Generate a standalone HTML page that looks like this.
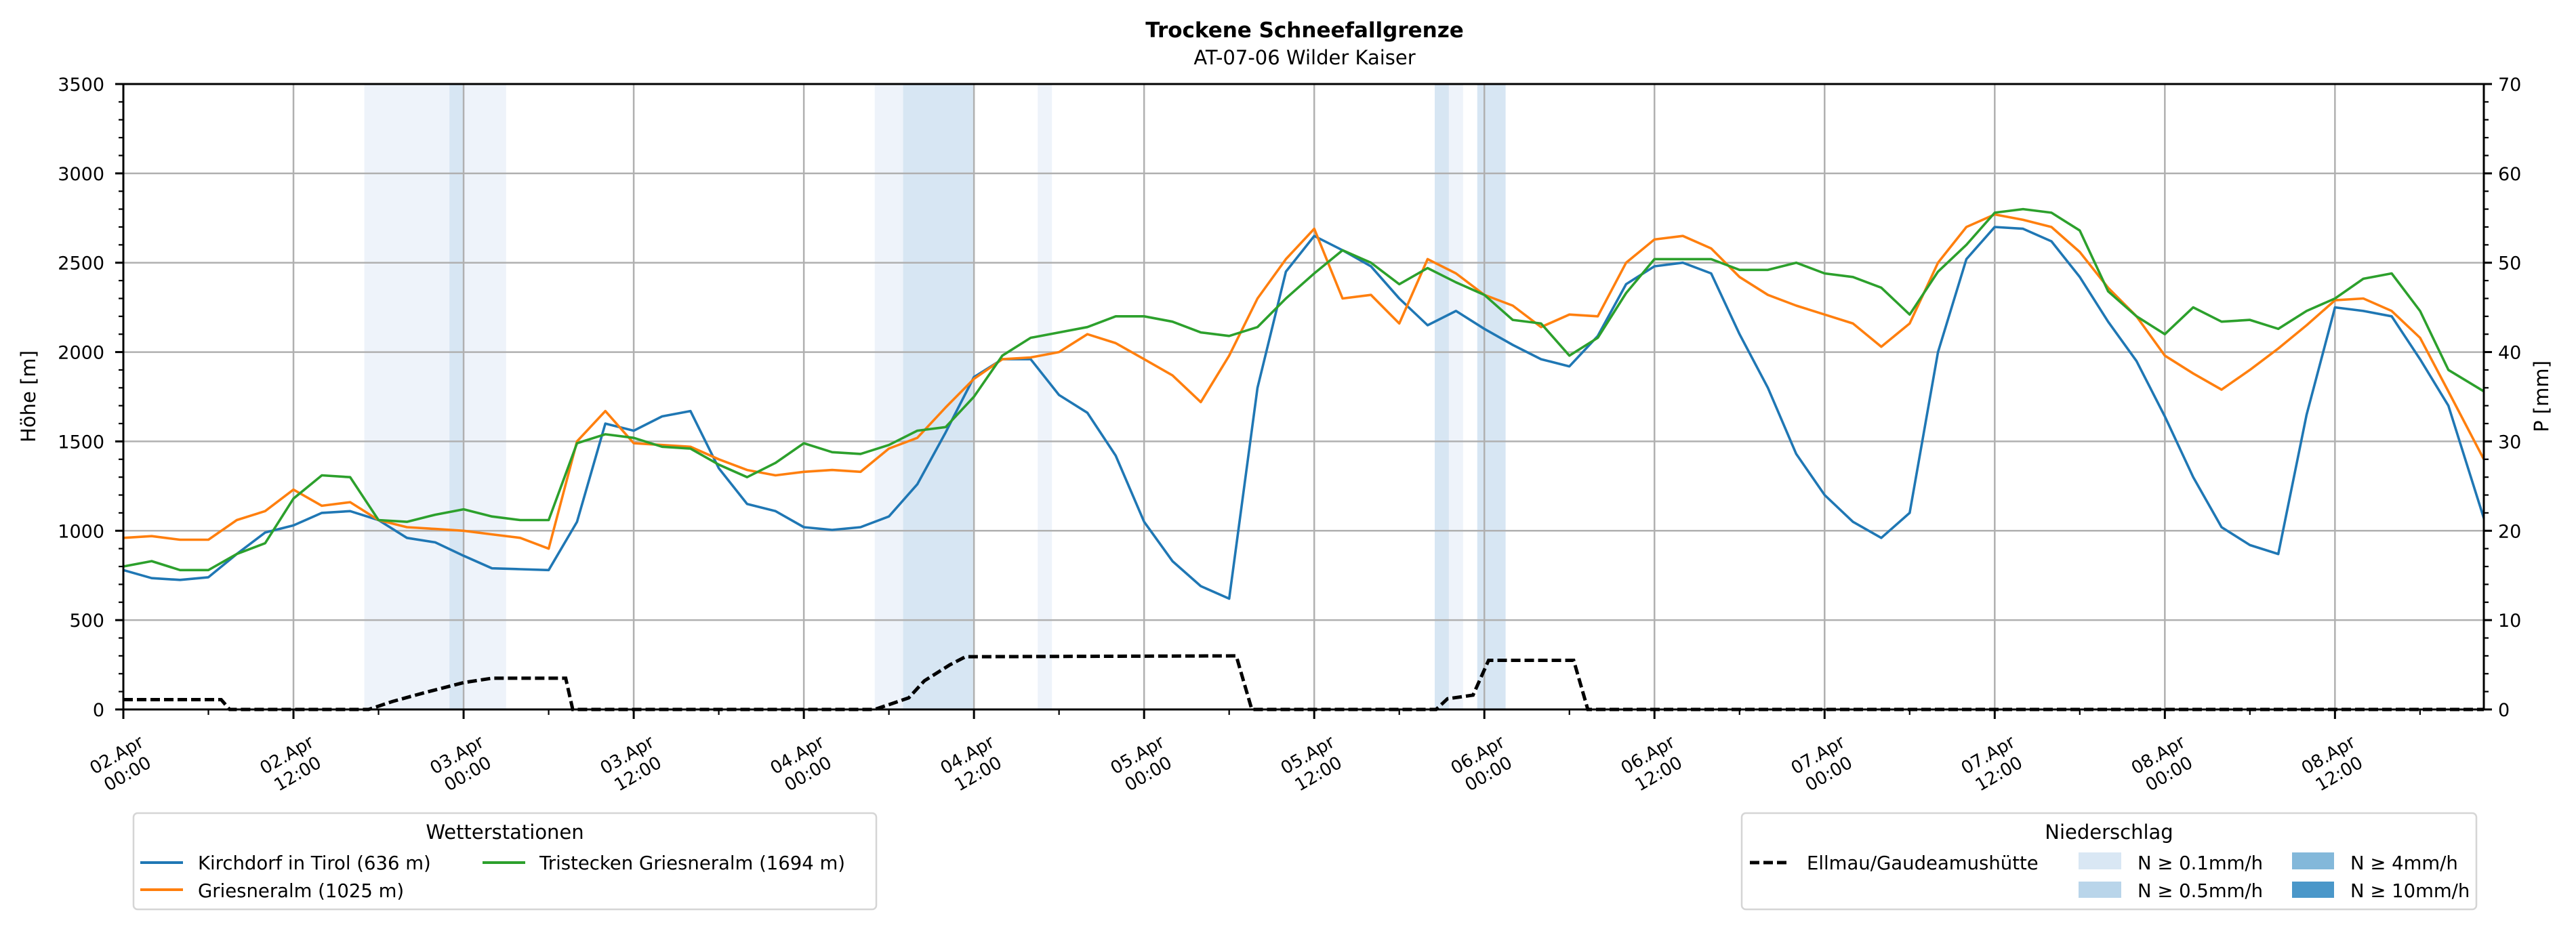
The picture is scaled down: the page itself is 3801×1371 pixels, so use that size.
<!DOCTYPE html>
<html><head><meta charset="utf-8"><style>
html,body{margin:0;padding:0;background:#fff;}
svg{display:block;font-family:"DejaVu Sans","Liberation Sans",sans-serif;}
</style></head><body>
<svg id="chart" width="3801" height="1371" viewBox="0 0 3801 1371" xmlns="http://www.w3.org/2000/svg">
<text x="1925" y="55" text-anchor="middle" font-size="31" font-weight="bold">Trockene Schneefallgrenze</text>
<text x="1925" y="95" text-anchor="middle" font-size="29">AT-07-06 Wilder Kaiser</text>
<g id="bands"></g>
<g id="grid"></g>
<g id="series"></g>
<g id="axes"></g>
<text transform="translate(52,585) rotate(-90)" text-anchor="middle" font-size="29">Höhe [m]</text>
<text transform="translate(3760,585) rotate(-90)" text-anchor="middle" font-size="29">P [mm]</text>

<g>
<rect x="197" y="1200" width="1096" height="142" rx="6" fill="#fff" stroke="#d5d5d5" stroke-width="2.5"/>
<text x="745" y="1238" text-anchor="middle" font-size="29">Wetterstationen</text>
<g><line x1="207" y1="1273" x2="270" y2="1273" stroke="#1f77b4" stroke-width="4"/><text x="292" y="1283" font-size="27.5">Kirchdorf in Tirol (636 m)</text></g>
<g><line x1="712" y1="1273" x2="775" y2="1273" stroke="#2ca02c" stroke-width="4"/><text x="796" y="1283" font-size="27.5">Tristecken Griesneralm  (1694 m)</text></g>
<g><line x1="207" y1="1313" x2="270" y2="1313" stroke="#ff7f0e" stroke-width="4"/><text x="292" y="1324" font-size="27.5">Griesneralm (1025 m)</text></g>
</g>

<g>
<rect x="2570" y="1200" width="1084" height="142" rx="6" fill="#fff" stroke="#d5d5d5" stroke-width="2.5"/>
<text x="3112" y="1238" text-anchor="middle" font-size="29">Niederschlag</text>
<g><line x1="2582" y1="1273" x2="2638" y2="1273" stroke="#000" stroke-width="5" stroke-dasharray="14,6"/><text x="2666" y="1283" font-size="27.5">Ellmau/Gaudeamushütte</text></g>
<g><rect x="3067" y="1258" width="63" height="25" fill="#d9e7f4"/><text x="3154" y="1283" font-size="27.5">N ≥ 0.1mm/h</text></g>
<g><rect x="3067" y="1301" width="63" height="24" fill="#b9d5ea"/><text x="3154" y="1324" font-size="27.5">N ≥ 0.5mm/h</text></g>
<g><rect x="3382" y="1258" width="62" height="25" fill="#83b8da"/><text x="3468" y="1283" font-size="27.5">N ≥ 4mm/h</text></g>
<g><rect x="3382" y="1301" width="62" height="24" fill="#4a97c9"/><text x="3468" y="1324" font-size="27.5">N ≥ 10mm/h</text></g>
</g>
</svg>
<script>
const hours = [0,2,4,6,8,10,12,14,16,18,20,22,24,26,28,30,32,34,36,38,40,42,44,46,48,50,52,54,56,58,60,62,64,66,68,70,72,74,76,78,80,82,84,86,88,90,92,94,96,98,100,102,104,106,108,110,112,114,116,118,120,122,124,126,128,130,132,134,136,138,140,142,144,146,148,150,152,154,156,158,160,162,164,166.5];
const kirchdorf = [780,735,725,740,870,990,1030,1100,1110,1060,960,935,860,790,785,780,1050,1600,1560,1640,1670,1350,1150,1110,1020,1005,1020,1080,1260,1550,1860,1960,1960,1760,1660,1420,1050,830,690,620,1800,2450,2650,2570,2480,2300,2150,2230,2130,2040,1960,1920,2090,2380,2480,2500,2440,2100,1800,1430,1200,1050,960,1100,2000,2520,2700,2690,2620,2420,2170,1950,1640,1300,1020,920,870,1650,2250,2230,2200,1960,1700,1070];
const griesneralm = [960,970,950,950,1060,1110,1230,1140,1160,1060,1020,1010,1000,980,960,900,1500,1670,1490,1480,1470,1400,1340,1310,1330,1340,1330,1460,1520,1690,1850,1960,1970,2000,2100,2050,1960,1870,1720,1980,2300,2520,2690,2300,2320,2160,2520,2440,2320,2260,2140,2210,2200,2500,2630,2650,2580,2420,2320,2260,2210,2160,2030,2160,2500,2700,2770,2740,2700,2560,2360,2200,1980,1880,1790,1900,2020,2150,2290,2300,2230,2080,1780,1400];
const tristecken = [800,830,780,780,870,930,1180,1310,1300,1060,1050,1090,1120,1080,1060,1060,1490,1540,1520,1470,1460,1370,1300,1380,1490,1440,1430,1480,1560,1580,1750,1980,2080,2110,2140,2200,2200,2170,2110,2090,2140,2300,2440,2570,2500,2380,2470,2390,2320,2180,2160,1980,2080,2330,2520,2520,2520,2460,2460,2500,2440,2420,2360,2210,2450,2600,2780,2800,2780,2680,2340,2200,2100,2250,2170,2180,2130,2230,2300,2410,2440,2230,1900,1780];
const precipHours = [0,6.9,7.5,17.3,19,21.3,24,26,31.2,31.7,53,55.4,56.5,58.3,59.4,78.5,79.6,92.6,93.4,95.2,96.3,102.3,103.3,166.5];
const precipMm = [1.1,1.1,0,0,0.9,1.9,3.0,3.5,3.5,0,0,1.3,3.2,5.0,5.9,6.0,0,0,1.2,1.6,5.5,5.5,0,0];
const bandStart = [17,23,24,53,55,64.5,92.5,93.5,95.5];
const bandEnd = [23,24,27,55,60,65.5,93.5,94.5,97.5];
const bandLevel = [1,2,1,1,2,1,2,1,2];
const xTickLabels = ["02.Apr|00:00","02.Apr|12:00","03.Apr|00:00","03.Apr|12:00","04.Apr|00:00","04.Apr|12:00","05.Apr|00:00","05.Apr|12:00","06.Apr|00:00","06.Apr|12:00","07.Apr|00:00","07.Apr|12:00","08.Apr|00:00","08.Apr|12:00"];
const yTicks = [0,500,1000,1500,2000,2500,3000,3500];
const y2Ticks = [0,10,20,30,40,50,60,70];

const NS="http://www.w3.org/2000/svg";
const L=182,R=3665,T=124,B=1047,HMAX=166.5,YMAX=3500,PMAX=70;
const xs=h=>L+(R-L)*h/HMAX, ys=v=>B-(B-T)*v/YMAX, yp=v=>B-(B-T)*v/PMAX;
function mk(tag,attrs,parent){const e=document.createElementNS(NS,tag);for(const k in attrs)e.setAttribute(k,attrs[k]);parent.appendChild(e);return e;}
const gB=document.getElementById('bands'),gG=document.getElementById('grid'),gS=document.getElementById('series'),gA=document.getElementById('axes');
const bandCol={1:"#eef3fa",2:"#d7e6f3",3:"#83b8da",4:"#4a97c9"};
bandStart.forEach((s,i)=>{const r=mk('rect',{x:xs(s),y:T,width:xs(bandEnd[i])-xs(s),height:B-T,fill:bandCol[bandLevel[i]]},gB);

});
xTickLabels.forEach((t,i)=>{const x=xs(i*12);const l=mk('line',{x1:x,y1:T,x2:x,y2:B,stroke:"#b0b0b0","stroke-width":2.5},gG);

});
yTicks.forEach(v=>{const l=mk('line',{x1:L,y1:ys(v),x2:R,y2:ys(v),stroke:"#b0b0b0","stroke-width":2.5},gG);

});
function poly(xa,ya,fx,fy,col,extra,name){const p=xa.map((h,i)=>fx(h).toFixed(1)+','+fy(ya[i]).toFixed(1)).join(' ');
const e=mk('polyline',Object.assign({points:p,fill:"none",stroke:col,"stroke-width":3.6,"stroke-linejoin":"round"},extra),gS);

}
poly(hours,kirchdorf,xs,ys,"#1f77b4",{},'line-kirchdorf');
poly(hours,griesneralm,xs,ys,"#ff7f0e",{},'line-griesneralm');
poly(hours,tristecken,xs,ys,"#2ca02c",{},'line-tristecken');
poly(precipHours,precipMm,xs,yp,"#000",{"stroke-width":5,"stroke-dasharray":"14,6","stroke-linejoin":"miter"},'line-precip-ellmau');
mk('rect',{x:L,y:T,width:R-L,height:B-T,fill:"none",stroke:"#000","stroke-width":3},gA);
for(let v=0;v<=YMAX;v+=100){const big=v%500===0;mk('line',{x1:L,y1:ys(v),x2:L-(big?12:7),y2:ys(v),stroke:"#000","stroke-width":big?3:2.2},gA);}
for(let v=0;v<=PMAX;v+=2){const big=v%10===0;mk('line',{x1:R,y1:yp(v),x2:R+(big?12:7),y2:yp(v),stroke:"#000","stroke-width":big?3:2.2},gA);}
for(let h=0;h<=HMAX;h+=6){const big=h%12===0;mk('line',{x1:xs(h),y1:B,x2:xs(h),y2:B+(big?14:8),stroke:"#000","stroke-width":big?3:2.2},gA);}
yTicks.forEach(v=>{const t=mk('text',{x:L-28,y:ys(v)+10,"text-anchor":"end","font-size":27},gA);t.textContent=v;

});
y2Ticks.forEach(v=>{const t=mk('text',{x:R+21,y:yp(v)+10,"font-size":27},gA);t.textContent=v;

});
xTickLabels.forEach((s,i)=>{const parts=s.split('|');const g=mk('g',{transform:`translate(${xs(i*12)-10},1114) rotate(-30)`},gA);


const a=mk('text',{x:0,y:9,"text-anchor":"middle","font-size":26},g);a.textContent=parts[0];
const b=mk('text',{x:0,y:41,"text-anchor":"middle","font-size":26},g);b.textContent=parts[1];});
</script>
</body></html>
